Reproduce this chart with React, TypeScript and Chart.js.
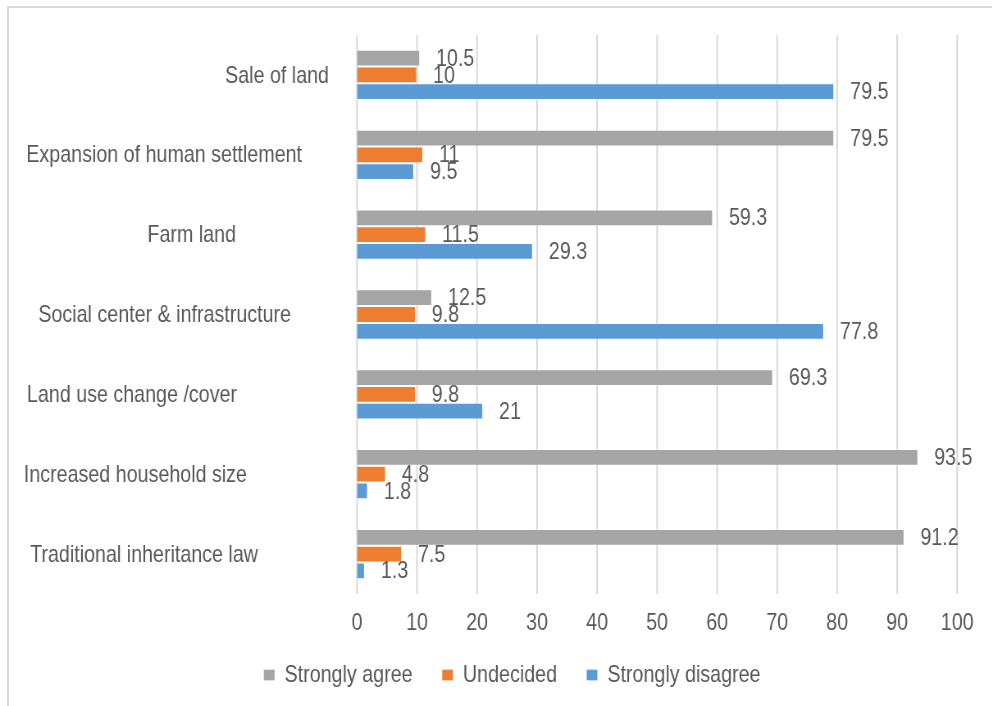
import React, { useEffect, useRef } from "react";
import { Chart, registerables } from "chart.js";

Chart.register(...registerables);

const categories = [
  "Sale of land",
  "Expansion of human settlement",
  "Farm land",
  "Social center & infrastructure",
  "Land use change /cover",
  "Increased household size",
  "Traditional inheritance law",
];
const stronglyAgree = [10.5, 79.5, 59.3, 12.5, 69.3, 93.5, 91.2];
const undecided = [10, 11, 11.5, 9.8, 9.8, 4.8, 7.5];
const stronglyDisagree = [79.5, 9.5, 29.3, 77.8, 21, 1.8, 1.3];
const seriesNames = ["Strongly agree", "Undecided", "Strongly disagree"];

// layout constants (screen px)
const labelGaps = [28, 55, 121, 66, 120, 110, 99];
const SX = 0.82; // horizontal squeeze to emulate a narrow font
const W = 992;
const H = 706;
const CW = Math.round(W / SX);
const PLOT_LEFT = 357;
const OUTER_LEFT = 67;

const FONT = "'Liberation Sans', Arial, sans-serif";
const TEXT = "#595959";
const GRID = "#D9D9D9";
const FS = 24;

export default function App() {
  const ref = useRef<HTMLCanvasElement | null>(null);

  useEffect(() => {
    if (!ref.current) return;

    const gridLines = {
      id: "gridLines",
      beforeDatasetsDraw(chart: any) {
        const ctx = chart.ctx;
        const x = chart.scales.x;
        const { top, bottom, left, right } = chart.chartArea;
        ctx.save();
        ctx.beginPath();
        ctx.rect(left - 5, top, right - left + 10, bottom - top);
        ctx.clip();
        ctx.strokeStyle = GRID;
        ctx.lineWidth = 2;
        x.ticks.forEach((t: any) => {
          const px = x.getPixelForValue(t.value);
          ctx.beginPath();
          ctx.moveTo(px, top);
          ctx.lineTo(px, bottom);
          ctx.stroke();
        });
        ctx.restore();
      },
    };

    const tickLabels = {
      id: "tickLabels",
      afterDraw(chart: any) {
        const ctx = chart.ctx;
        const x = chart.scales.x;
        const base = chart.chartArea.bottom + 29;
        ctx.save();
        ctx.font = `${FS}px ${FONT}`;
        ctx.fillStyle = TEXT;
        ctx.textAlign = "center";
        ctx.textBaseline = "middle";
        x.ticks.forEach((t: any) => {
          ctx.fillText(String(t.value), x.getPixelForValue(t.value), base);
        });
        ctx.restore();
      },
    };

    const valueLabels = {
      id: "valueLabels",
      afterDatasetsDraw(chart: any) {
        const ctx = chart.ctx;
        ctx.save();
        ctx.font = `${FS}px ${FONT}`;
        ctx.fillStyle = TEXT;
        ctx.textAlign = "left";
        ctx.textBaseline = "middle";
        chart.data.datasets.forEach((ds: any, di: number) => {
          const meta = chart.getDatasetMeta(di);
          meta.data.forEach((el: any, i: number) => {
            ctx.fillText(String(ds.data[i]), el.x + 16 / SX, el.y + 1);
          });
        });
        ctx.restore();
      },
    };

    const categoryLabels = {
      id: "categoryLabels",
      afterDraw(chart: any) {
        const ctx = chart.ctx;
        const y = chart.scales.y;
        const left = chart.chartArea.left;
        ctx.save();
        ctx.font = `${FS}px ${FONT}`;
        ctx.fillStyle = TEXT;
        ctx.textAlign = "right";
        ctx.textBaseline = "middle";
        categories.forEach((c, i) => {
          ctx.fillText(c, left - labelGaps[i] / SX, y.getPixelForValue(i) + 1);
        });
        ctx.restore();
      },
    };

    const chart = new Chart(ref.current, {
      type: "bar",
      data: {
        labels: categories,
        datasets: [
          { label: seriesNames[0], data: stronglyAgree, backgroundColor: "#A5A5A5", borderColor: "rgba(255,255,255,0.35)", borderWidth: 1 },
          { label: seriesNames[1], data: undecided, backgroundColor: "#ED7D31", borderColor: "rgba(255,255,255,0.35)", borderWidth: 1 },
          { label: seriesNames[2], data: stronglyDisagree, backgroundColor: "#5B9BD5", borderColor: "rgba(255,255,255,0.35)", borderWidth: 1 },
        ],
      },
      options: {
        indexAxis: "y",
        animation: false,
        responsive: false,
        maintainAspectRatio: false,
        devicePixelRatio: 1,
        datasets: { bar: { categoryPercentage: 0.63, barPercentage: 1 } },
        layout: { padding: { left: OUTER_LEFT / SX, right: 35 / SX, top: 35, bottom: 9 } },
        scales: {
          x: {
            min: 0,
            max: 100,
            ticks: { stepSize: 10, display: false },
            grid: { display: false, drawTicks: false, tickLength: 0 },
            border: { display: false },
            afterFit(scale: any) {
              scale.height = 33;
            },
          },
          y: {
            display: true,
            ticks: { display: false },
            grid: { display: false, drawTicks: false, tickLength: 0 },
            border: { display: false },
            afterFit(scale: any) {
              scale.width = (PLOT_LEFT - OUTER_LEFT) / SX;
            },
          },
        },
        plugins: {
          legend: {
            position: "bottom",
            labels: {
              color: TEXT,
              font: { family: FONT, size: FS },
              boxWidth: 11 / SX,
              boxHeight: 11,
              padding: 36,
            },
          },
          tooltip: { enabled: false },
        },
      },
      plugins: [gridLines, valueLabels, categoryLabels, tickLabels],
    });
    return () => chart.destroy();
  }, []);

  return (
    <div style={{ position: "absolute", left: 0, top: 0, width: W, height: H, overflow: "hidden", background: "#fff" }}>
      <div style={{ position: "absolute", left: 0, top: 0, width: CW, height: H, transform: `scaleX(${SX})`, transformOrigin: "0 0" }}>
        <canvas ref={ref} width={CW} height={H} style={{ display: "block", width: CW, height: H }} />
      </div>
      <div
        style={{
          position: "absolute",
          left: 7,
          top: 6,
          width: 1100,
          height: 800,
          borderLeft: "2px solid #D9D9D9",
          borderTop: "2px solid #D9D9D9",
          pointerEvents: "none",
        }}
      />
    </div>
  );
}
